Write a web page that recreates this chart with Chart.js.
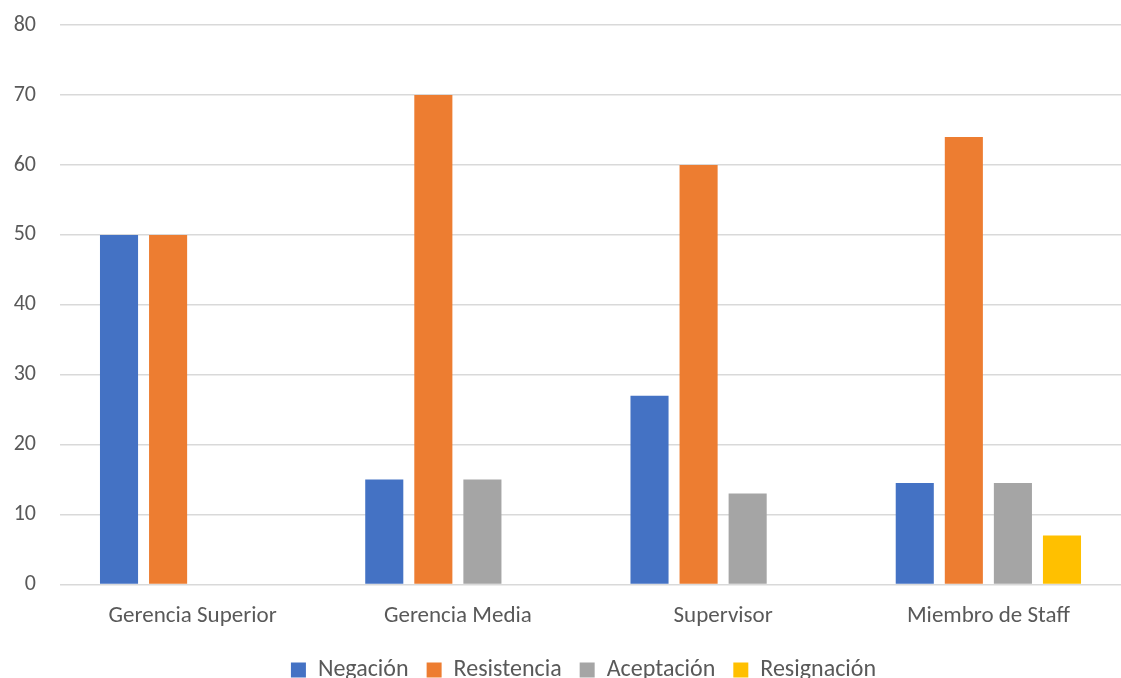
<!DOCTYPE html>
<html>
<head>
<meta charset="utf-8">
<script src="https://cdn.jsdelivr.net/npm/chart.js@4/dist/chart.umd.min.js"></script>
<style>
  html, body { margin: 0; padding: 0; background: #fff; overflow: hidden; }
  #wrap { width: 1121px; height: 678px; overflow: hidden; position: relative; }
  /* canvas is a bit taller and shifted up so the plot top lines up with the original */
  #chart { position: absolute; left: 0; top: -12px; }
</style>
</head>
<body>
<div id="wrap"><canvas id="chart" width="1121" height="690"></canvas></div>
<script>
const categories = ["Gerencia Superior", "Gerencia Media", "Supervisor", "Miembro de Staff"];
const negacion = [50, 15, 27, 14.5];
const resistencia = [50, 70, 60, 64];
const aceptacion = [0, 15, 13, 14.5];
const resignacion = [0, 0, 0, 7];
const yTicks = [0, 10, 20, 30, 40, 50, 60, 70, 80];

const fontFamily = "Carlito, Calibri, 'Open Sans', 'Noto Sans', sans-serif";
const textColor = "#595959";

function makeSet(label, data, color) {
  return {
    label: label,
    data: data,
    backgroundColor: color,
    borderWidth: 0,
    categoryPercentage: 0.74,
    barPercentage: 0.776,
  };
}

// the legend is centred on the plot area, not the whole canvas
const legendShift = {
  id: "legendShift",
  afterLayout(chart) {
    chart.legend.left += 23;
    chart.legend.right += 23;
  },
};

const ctx = document.getElementById("chart").getContext("2d");
new Chart(ctx, {
  type: "bar",
  data: {
    labels: categories,
    datasets: [
      makeSet("Negación", negacion, "#4472c4"),
      makeSet("Resistencia", resistencia, "#ed7d31"),
      makeSet("Aceptación", aceptacion, "#a5a5a5"),
      makeSet("Resignación", resignacion, "#ffc000"),
    ],
  },
  plugins: [legendShift],
  options: {
    responsive: false,
    animation: false,
    // legend sits close to the bottom edge, so pull it down a bit
    layout: { padding: { top: 0, right: 0, bottom: -14, left: 0 } },
    plugins: {
      tooltip: { enabled: false },
      legend: {
        position: "bottom",
        labels: {
          color: textColor,
          font: { family: fontFamily, size: 24 },
          boxWidth: 15,
          boxHeight: 15,
          padding: 18,
        },
      },
    },
    scales: {
      x: {
        grid: { display: false },
        border: { display: false },
        ticks: {
          color: textColor,
          font: { family: fontFamily, size: 23 },
          padding: 10,
        },
      },
      y: {
        min: 0,
        max: 80,
        afterBuildTicks: (axis) => {
          axis.ticks = yTicks.map((v) => ({ value: v }));
        },
        afterFit: (axis) => {
          axis.width = 60;
        },
        grid: { color: "#d9d9d9", lineWidth: 1.5, drawTicks: false },
        border: { display: false },
        ticks: {
          color: textColor,
          font: { family: fontFamily, size: 22 },
          padding: 24,
        },
      },
    },
  },
});
</script>
</body>
</html>
